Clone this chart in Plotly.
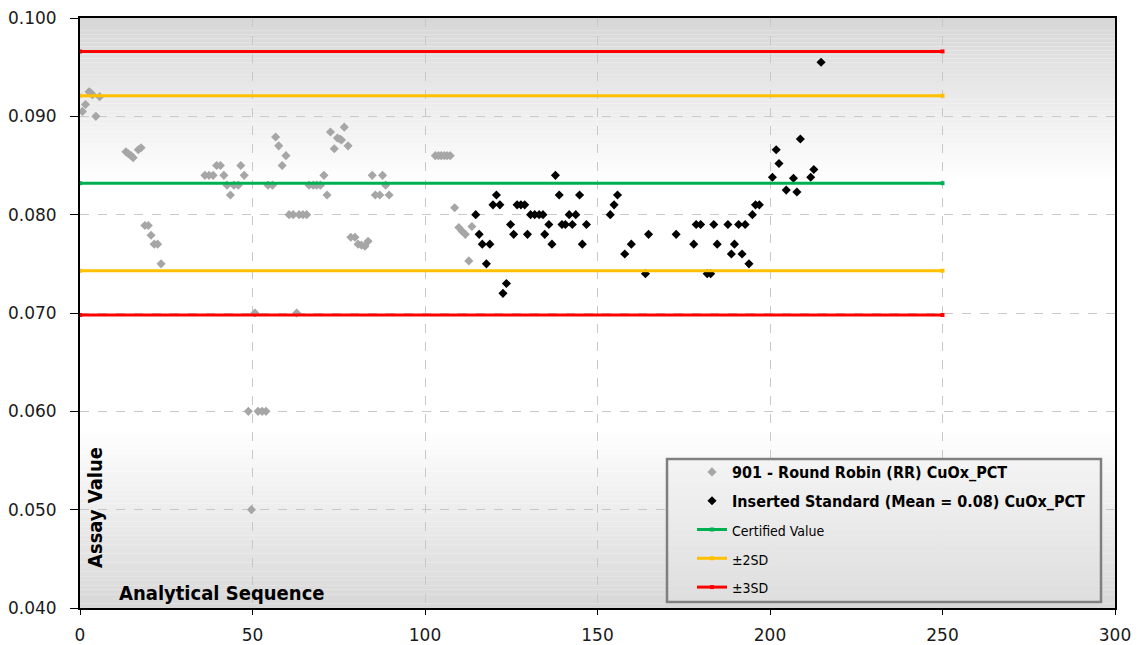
import plotly.graph_objects as go

# ---------------- data ----------------
rr_x = [0.7, 1.6, 2.6, 3.1, 3.6, 4.6, 5.7,
        13.3, 14.0, 14.8, 15.4, 16.9, 17.7,
        18.8, 19.8, 20.6, 21.5, 22.5, 23.5,
        36.2, 37.4, 38.6, 39.6, 40.7, 41.7, 42.6, 43.6, 44.6, 45.9, 46.6, 47.6,
        48.8, 49.7, 50.7, 51.6, 52.8, 53.9,
        54.5, 55.8, 56.7, 57.6, 58.6, 59.7,
        60.6, 61.8, 62.8, 63.5, 64.6, 65.7,
        66.4, 67.6, 68.6, 69.7, 70.7, 71.6, 72.6, 73.7, 74.6, 75.3, 75.8, 76.6, 77.7,
        78.5, 79.7, 80.6, 81.6, 82.6, 83.5,
        84.7, 85.6, 86.9, 87.7, 88.6, 89.6,
        103.0, 103.9, 104.7, 105.6, 106.4, 107.3,
        108.6, 109.8, 110.8, 111.7, 112.7, 113.6]
rr_y = [0.0905, 0.0912, 0.0925, 0.0924, 0.0922, 0.0900, 0.0920,
        0.0864, 0.0862, 0.0860, 0.0858, 0.0866, 0.0868,
        0.0789, 0.0789, 0.0779, 0.0770, 0.0770, 0.0750,
        0.0840, 0.0840, 0.0840, 0.0850, 0.0850, 0.0840, 0.0830, 0.0820, 0.0830, 0.0830, 0.0850, 0.0840,
        0.0600, 0.0500, 0.0700, 0.0600, 0.0600, 0.0600,
        0.0830, 0.0830, 0.0879, 0.0870, 0.0850, 0.0860,
        0.0800, 0.0800, 0.0700, 0.0800, 0.0800, 0.0800,
        0.0830, 0.0830, 0.0830, 0.0830, 0.0840, 0.0820, 0.0884, 0.0867, 0.0878, 0.0877, 0.0876, 0.0889, 0.0870,
        0.0777, 0.0777, 0.0770, 0.0769, 0.0768, 0.0773,
        0.0840, 0.0820, 0.0820, 0.0840, 0.0830, 0.0820,
        0.0860, 0.0860, 0.0860, 0.0860, 0.0860, 0.0860,
        0.0807, 0.0787, 0.0783, 0.0780, 0.0753, 0.0788]

std_x = [114.7, 115.7, 116.6, 117.8, 118.8, 119.7, 120.7, 121.7, 122.6, 123.6,
         124.8, 125.7, 126.7, 127.8, 128.9, 129.7, 130.6, 131.8, 133.1, 134.2,
         134.7, 135.9, 136.8, 137.8, 138.9, 139.7, 140.7, 141.8, 142.7, 143.7,
         144.8, 145.6, 146.8,
         153.7, 154.8, 155.8, 157.9, 159.8, 163.9, 164.8, 172.8, 177.9, 178.6,
         179.9, 181.8, 182.8, 183.7, 184.7, 187.8, 188.8, 189.7, 190.9, 191.9,
         192.8, 193.9, 194.9, 195.8, 196.9,
         200.7, 201.8, 202.6, 204.7, 206.8, 207.8, 208.8, 211.8, 212.7, 214.8]
std_y = [0.0800, 0.0780, 0.0770, 0.0750, 0.0770, 0.0810, 0.0820, 0.0810, 0.0720, 0.0730,
         0.0790, 0.0780, 0.0810, 0.0810, 0.0810, 0.0780, 0.0800, 0.0800, 0.0800, 0.0800,
         0.0780, 0.0790, 0.0770, 0.0840, 0.0820, 0.0790, 0.0790, 0.0800, 0.0790, 0.0800,
         0.0820, 0.0770, 0.0790,
         0.0800, 0.0810, 0.0820, 0.0760, 0.0770, 0.0740, 0.0780, 0.0780, 0.0770, 0.0790,
         0.0790, 0.0740, 0.0740, 0.0790, 0.0770, 0.0790, 0.0760, 0.0770, 0.0790, 0.0760,
         0.0790, 0.0750, 0.0800, 0.0810, 0.0810,
         0.0838, 0.0866, 0.0852, 0.0825, 0.0837, 0.0823, 0.0877, 0.0838, 0.0846, 0.0955]

line_x = [0, 250]
certified_value = 0.0832
plus_2sd = 0.0921
minus_2sd = 0.0743
plus_3sd = 0.0966
minus_3sd = 0.0698

x_ticks = [0, 50, 100, 150, 200, 250, 300]
y_ticks = [0.040, 0.050, 0.060, 0.070, 0.080, 0.090, 0.100]

# ---------------- styling helpers ----------------
COND = "Liberation Sans Narrow, DejaVu Sans Condensed, Arial Narrow, sans-serif"


def lerp_gray(a, b, t):
    v = int(round(a + (b - a) * t))
    return f"rgb({v},{v},{v})"


shapes = []
# plot-area vertical gradient (top band and bottom band)
n = 40
for i in range(n):
    y0 = 0.100 - (0.100 - 0.0835) * i / n
    y1 = 0.100 - (0.100 - 0.0835) * (i + 1) / n
    shapes.append(dict(type="rect", xref="paper", yref="y", x0=0, x1=1, y0=y1, y1=y0,
                       fillcolor=lerp_gray(214, 255, (i + 0.5) / n), line=dict(width=0),
                       layer="below"))
for i in range(n):
    y0 = 0.0585 - (0.0585 - 0.040) * i / n
    y1 = 0.0585 - (0.0585 - 0.040) * (i + 1) / n
    shapes.append(dict(type="rect", xref="paper", yref="y", x0=0, x1=1, y0=y1, y1=y0,
                       fillcolor=lerp_gray(255, 216, (i + 0.5) / n), line=dict(width=0),
                       layer="below"))

# legend box with gradient
lx0, lx1 = (667 - 80) / 1035, (1101 - 80) / 1035
ly_top, ly_bot = (608 - 459) / 590, (608 - 602) / 590
m = 20
for i in range(m):
    ya = ly_top - (ly_top - ly_bot) * i / m
    yb = ly_top - (ly_top - ly_bot) * (i + 1) / m
    shapes.append(dict(type="rect", xref="paper", yref="paper", x0=lx0, x1=lx1, y0=yb, y1=ya,
                       fillcolor=lerp_gray(244, 222, (i + 0.5) / m), line=dict(width=0),
                       layer="above"))
shapes.append(dict(type="rect", xref="paper", yref="paper", x0=lx0, x1=lx1, y0=ly_bot, y1=ly_top,
                   fillcolor="rgba(0,0,0,0)", line=dict(color="#7f7f7f", width=2.5),
                   layer="above"))

fig = go.Figure()

fig.add_trace(go.Scatter(
    x=rr_x, y=rr_y, mode="markers",
    name="<b>901 - Round Robin (RR) CuOx_PCT</b>",
    marker=dict(symbol="diamond", size=7, color="#a6a6a6"),
    legendgroup="a"))
fig.add_trace(go.Scatter(
    x=std_x, y=std_y, mode="markers",
    name="<b>Inserted Standard (Mean = 0.08) CuOx_PCT</b>",
    marker=dict(symbol="diamond", size=7, color="#000000"),
    legendgroup="b"))


def ref_line(values, color, name, grp):
    xs, ys = [], []
    for v in values:
        if xs:
            xs.append(None)
            ys.append(None)
        xs += line_x
        ys += [v, v]
    fig.add_trace(go.Scatter(
        x=xs, y=ys, mode="lines+markers", name=name,
        line=dict(color=color, width=3),
        marker=dict(symbol="square", size=4, color=color),
        legendgroup=grp))


small = '<span style="font-size:14px">{}</span>'
ref_line([certified_value], "#00b050", small.format("Certified Value"), "c")
ref_line([plus_2sd, minus_2sd], "#ffc000", small.format("±2SD"), "d")
ref_line([plus_3sd, minus_3sd], "#ff0000", small.format("±3SD"), "e")

fig.update_layout(
    width=1138, height=645,
    margin=dict(l=80, r=23, t=18, b=37, autoexpand=False),
    paper_bgcolor="white", plot_bgcolor="white",
    shapes=shapes,
    showlegend=True,
    legend=dict(x=lx0, xanchor="left", y=(608 - 455) / 590, yanchor="top",
                bgcolor="rgba(0,0,0,0)", borderwidth=0,
                font=dict(family=COND, size=16, color="#000000"),
                indentation=25, tracegroupgap=5, traceorder="grouped"),
    annotations=[
        dict(text="<b>Analytical Sequence</b>", xref="paper", yref="paper",
             x=(222 - 80) / 1035, y=(608 - 593) / 590, xanchor="center", yanchor="middle",
             showarrow=False, font=dict(family=COND, size=20, color="#000000")),
        dict(text="<b>Assay Value</b>", xref="paper", yref="paper",
             x=(95 - 80) / 1035, y=(608 - 508) / 590, xanchor="center", yanchor="middle",
             textangle=-90, showarrow=False,
             font=dict(family=COND, size=20, color="#000000")),
    ],
)

fig.update_xaxes(range=[0, 300], tickvals=x_ticks, ticktext=[str(v) for v in x_ticks],
                 showgrid=True, gridcolor="#c8c8c8", gridwidth=1, griddash="dash",
                 showline=True, linecolor="black", linewidth=2, mirror=True,
                 ticks="outside", ticklen=5, tickcolor="black", ticklabelstandoff=6,
                 tickfont=dict(family="DejaVu Sans", size=17, color="#1a1a1a"),
                 zeroline=False, automargin=False)
fig.update_yaxes(range=[0.040, 0.100], tickvals=y_ticks, ticktext=[f"{v:.3f}" for v in y_ticks],
                 showgrid=True, gridcolor="#c8c8c8", gridwidth=1, griddash="dash",
                 showline=True, linecolor="black", linewidth=2, mirror=True,
                 ticks="outside", ticklen=8, tickcolor="black", ticklabelstandoff=10,
                 tickfont=dict(family="DejaVu Sans", size=17, color="#1a1a1a"),
                 zeroline=False, automargin=False)

fig.write_html("out.html")
